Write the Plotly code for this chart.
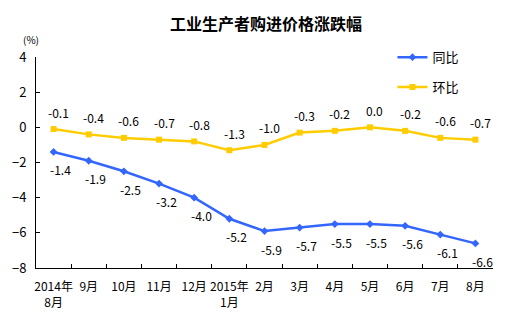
import plotly.graph_objects as go

categories = ["2014年<br>8月", "9月", "10月", "11月", "12月", "2015年<br>1月", "2月", "3月", "4月", "5月", "6月", "7月", "8月"]
tongbi = [-1.4, -1.9, -2.5, -3.2, -4.0, -5.2, -5.9, -5.7, -5.5, -5.5, -5.6, -6.1, -6.6]
huanbi = [-0.1, -0.4, -0.6, -0.7, -0.8, -1.3, -1.0, -0.3, -0.2, 0.0, -0.2, -0.6, -0.7]
y_ticks = [-8, -6, -4, -2, 0, 2, 4]

BLUE = "#3366FF"
YELLOW = "#FFCC00"
FONT = "Noto Sans CJK SC"

fig = go.Figure()
fig.add_trace(go.Scatter(x=categories, y=tongbi, name="同比", mode="lines+markers", legendgroup="a",
                         line=dict(color=BLUE, width=2.5),
                         marker=dict(symbol="diamond", size=6, color=BLUE)))
fig.add_trace(go.Scatter(x=categories, y=huanbi, name="环比", mode="lines+markers", legendgroup="b",
                         line=dict(color=YELLOW, width=2.5),
                         marker=dict(symbol="square", size=6, color=YELLOW)))

anns = []
for c, v in zip(categories, tongbi):
    anns.append(dict(x=c, y=v, text=f"{v:.1f}", showarrow=False, xshift=7, yshift=-18,
                     font=dict(family=FONT, size=12, color="black")))
for c, v in zip(categories, huanbi):
    anns.append(dict(x=c, y=v, text=f"{v:.1f}", showarrow=False, xshift=5, yshift=17,
                     font=dict(family=FONT, size=12, color="black")))
anns.append(dict(xref="paper", yref="paper", x=-0.01, y=1.04, xanchor="center", yanchor="bottom",
                 text="(%)", showarrow=False, font=dict(family=FONT, size=10, color="black")))

fig.update_layout(
    width=532, height=322,
    margin=dict(l=34, r=39, t=57, b=53),
    paper_bgcolor="white", plot_bgcolor="white",
    title=dict(text="<b>工业生产者购进价格涨跌幅</b>", x=0.5, xanchor="center", y=0.925, yanchor="middle",
               font=dict(family=FONT, size=16, color="black")),
    font=dict(family=FONT, size=12, color="black"),
    showlegend=True,
    legend=dict(x=0.78, y=1.07, xanchor="left", yanchor="top", bgcolor="rgba(0,0,0,0)",
                font=dict(family=FONT, size=13, color="black"), tracegroupgap=10, itemwidth=30),
    xaxis=dict(type="category", range=[-0.5, 12.5], showline=True, linecolor="black", linewidth=1,
               ticks="inside", ticklen=4, tickcolor="black", tickson="boundaries",
               showgrid=False, zeroline=False, tickangle=0, ticklabelstandoff=8,
               tickfont=dict(family=FONT, size=12, color="black")),
    yaxis=dict(range=[-8, 4], tickvals=y_ticks, showline=True, linecolor="black", linewidth=1,
               ticks="inside", ticklen=4, tickcolor="black", showgrid=False, zeroline=False,
               ticklabelstandoff=6,
               tickfont=dict(family=FONT, size=13, color="black")),
    annotations=anns,
)

fig.write_html("out.html")
